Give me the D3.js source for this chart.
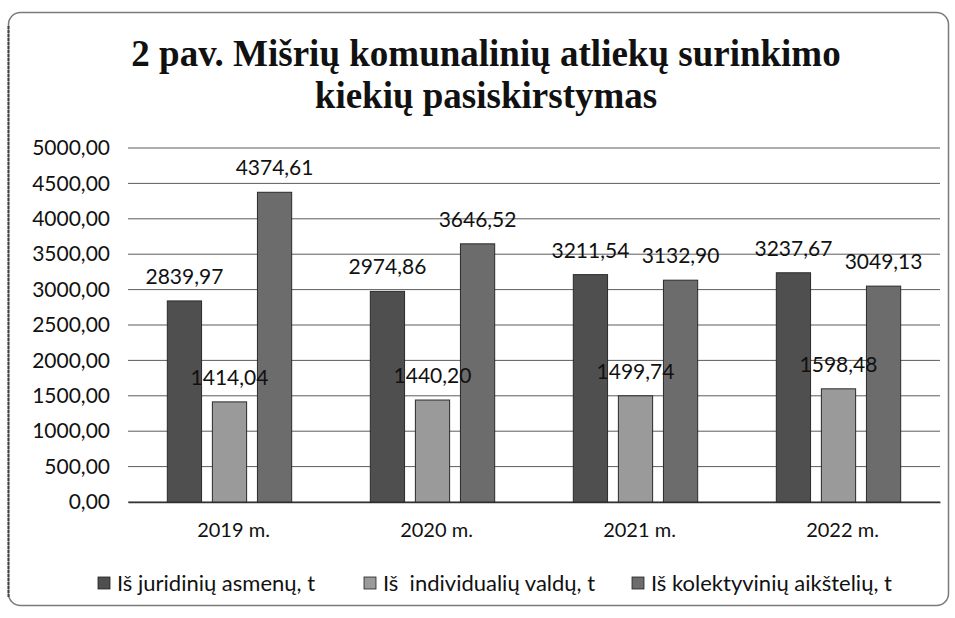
<!DOCTYPE html>
<html><head><meta charset="utf-8">
<script src="https://cdn.jsdelivr.net/npm/d3@7"></script>
<style>body{margin:0;background:#fff} svg{display:block}</style>
</head><body><svg id="c" width="955" height="618"></svg>
<script>
const categories = ["2019 m.", "2020 m.", "2021 m.", "2022 m."];
const seriesNames = ["Iš juridinių asmenų, t", "Iš  individualių valdų, t", "Iš kolektyvinių aikštelių, t"];
const juridiniai = [2839.97, 2974.86, 3211.54, 3237.67];
const individualios = [1414.04, 1440.20, 1499.74, 1598.48];
const kolektyvines = [4374.61, 3646.52, 3132.90, 3049.13];
const yTicks = [0, 500, 1000, 1500, 2000, 2500, 3000, 3500, 4000, 4500, 5000];
const titleLines = ["2 pav. Mišrių komunalinių atliekų surinkimo", "kiekių pasiskirstymas"];

const seriesValues = [juridiniai, individualios, kolektyvines];
const colors = ["#4f4f4f", "#9a9a9a", "#6c6c6c"];

const svg = d3.select("#c");
const W = 955, H = 618;
const m = {left: 128, right: 15, top: 148, bottom: 116};

// frame
svg.append("rect").attr("x", 8.5).attr("y", 12.5).attr("width", 940).attr("height", 593)
  .attr("rx", 12).attr("fill", "#fff").attr("stroke", "#7a7a7a").attr("stroke-width", 1.5);
svg.append("line").attr("x1", 8.5).attr("x2", 8.5).attr("y1", 26).attr("y2", 598)
  .attr("stroke", "#444").attr("stroke-width", 2).attr("stroke-dasharray", "3,1");

const x0 = d3.scaleBand().domain(categories).range([m.left, W - m.right]).paddingInner(0.334).paddingOuter(0.167);
const x1 = d3.scaleBand().domain(d3.range(seriesNames.length)).range([0, x0.bandwidth()]).paddingInner(0.24).paddingOuter(0.12);
const y = d3.scaleLinear().domain([0, 5000]).range([H - m.bottom, m.top]);

const fmt = v => d3.format(".2f")(v).replace(".", ",");

// gridlines
svg.append("g").selectAll("line").data(yTicks).join("line")
  .attr("x1", m.left).attr("x2", W - m.right)
  .attr("y1", d => y(d)).attr("y2", d => y(d))
  .attr("stroke", "#333").attr("stroke-width", 1).attr("stroke-opacity", 0.8);

// y axis
const yAxis = svg.append("g").attr("transform", `translate(${m.left},0)`)
  .call(d3.axisLeft(y).tickValues(yTicks).tickFormat(fmt).tickSize(0).tickPadding(18));
yAxis.select(".domain").remove();
yAxis.selectAll("text").attr("font-family", "Lato").attr("font-size", 21).attr("fill", "#111");

// x axis
const xAxis = svg.append("g").attr("transform", `translate(0,${H - m.bottom})`)
  .call(d3.axisBottom(x0).tickSize(0).tickPadding(21));
xAxis.select(".domain").attr("stroke", "#333").attr("stroke-width", 1.5);
xAxis.selectAll("text").attr("font-family", "Lato").attr("font-size", 20).attr("fill", "#111")
  .attr("dx", 4);

// bars
const groups = svg.append("g").selectAll("g").data(categories).join("g")
  .attr("transform", d => `translate(${x0(d)},0)`);
groups.selectAll("rect").data((d, i) => seriesValues.map((s, k) => ({k, v: s[i]}))).join("rect")
  .attr("x", d => x1(d.k)).attr("width", x1.bandwidth())
  .attr("y", d => y(d.v)).attr("height", d => y(0) - y(d.v))
  .attr("fill", d => colors[d.k]).attr("stroke", "#2a2a2a").attr("stroke-width", 1);

// labels
groups.selectAll("text").data((d, i) => seriesValues.map((s, k) => ({k, v: s[i]}))).join("text")
  .attr("x", d => x1(d.k) + x1.bandwidth() / 2).attr("y", d => y(d.v) - 17)
  .attr("text-anchor", "middle").attr("font-family", "Lato").attr("font-size", 21).attr("fill", "#111")
  .text(d => fmt(d.v));

// title
svg.append("text").attr("text-anchor", "middle")
  .attr("font-family", "Liberation Serif").attr("font-weight", "bold").attr("font-size", 37).attr("fill", "#111")
  .selectAll("tspan").data(titleLines).join("tspan")
  .attr("x", 486).attr("y", (d, i) => 66 + i * 42).text(d => d);

// legend
const legend = svg.append("g").attr("transform", "translate(0,591)");
const lx = [98, 364, 632];
seriesNames.forEach((n, i) => {
  const g = legend.append("g").attr("transform", `translate(${lx[i]},0)`);
  g.append("rect").attr("x", 0).attr("y", -14).attr("width", 12).attr("height", 12)
    .attr("fill", colors[i]).attr("stroke", "#222").attr("stroke-width", 0.8);
  g.append("text").attr("x", 19).attr("y", 0).attr("font-family", "Lato").attr("font-size", 22)
    .attr("fill", "#111").style("white-space", "pre").text(n);
});
</script></body></html>
